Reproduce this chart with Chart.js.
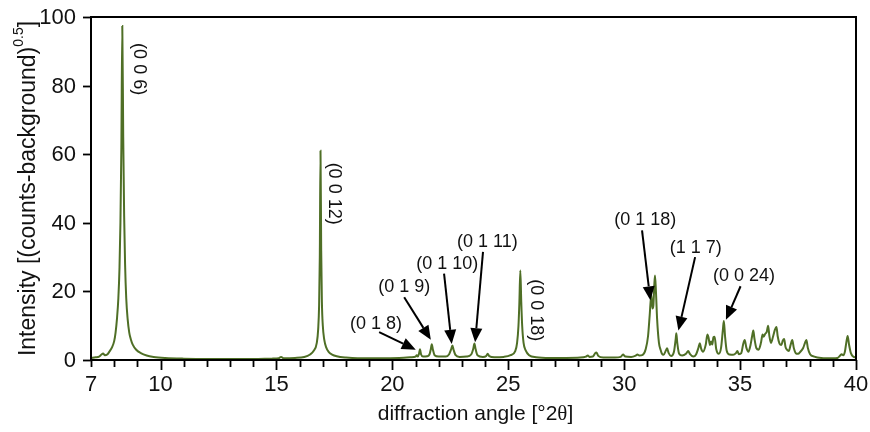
<!DOCTYPE html>
<html>
<head>
<meta charset="utf-8">
<script src="https://cdn.jsdelivr.net/npm/chart.js@4/dist/chart.umd.min.js"></script>
<style>
  html, body { margin: 0; padding: 0; background: #ffffff; }
  #wrap { width: 870px; height: 432px; }
</style>
</head>
<body>
<div id="wrap"><canvas id="xrd" width="870" height="432"></canvas></div>
<script>
// diffraction angle (°2θ) and intensity sqrt(counts - background)
var angle = [
  7.0, 7.2, 7.35, 7.45, 7.52, 7.6, 7.7, 7.8, 7.9, 8.0, 8.06, 8.12, 8.18, 8.23, 8.27, 8.31, 8.35, 8.39, 8.43, 8.47,
  8.52, 8.58, 8.65, 8.72, 8.8, 8.95, 9.15, 9.4, 9.7, 10.2, 11.0, 12.0, 13.0, 14.0, 14.8, 15.1, 15.2, 15.3, 15.8, 16.2,
  16.45, 16.6, 16.74, 16.8, 16.84, 16.87, 16.9, 16.93, 16.96, 17.0, 17.06, 17.15, 17.25, 17.4, 17.6, 18.0, 18.5, 19.5, 20.3,
  20.8, 21.0, 21.05, 21.1, 21.15, 21.19, 21.24, 21.32, 21.5, 21.6, 21.66, 21.7, 21.75, 21.82, 22.0, 22.3, 22.45, 22.54, 22.59, 22.64,
  22.72, 22.9, 23.2, 23.4, 23.49, 23.54, 23.59, 23.67, 23.9, 24.05, 24.11, 24.18, 24.4, 24.8, 25.1, 25.3, 25.38, 25.44, 25.48, 25.52,
  25.56, 25.6, 25.66, 25.75, 25.9, 26.2, 26.8, 27.5, 28.1, 28.35, 28.43, 28.5, 28.65, 28.75, 28.8, 28.88, 29.1, 29.6, 29.85, 29.95,
  30.05, 30.3, 30.5, 30.57, 30.65, 30.8, 30.93, 31.03, 31.1, 31.17, 31.22, 31.26, 31.3, 31.33, 31.37, 31.42, 31.5, 31.57, 31.63, 31.7,
  31.8, 31.85, 31.92, 32.02, 32.15, 32.22, 32.25, 32.29, 32.37, 32.5, 32.68, 32.76, 32.84, 32.98, 33.1, 33.2, 33.26, 33.32, 33.4, 33.52,
  33.59, 33.64, 33.7, 33.75, 33.8, 33.85, 33.9, 33.97, 34.08, 34.18, 34.26, 34.3, 34.35, 34.42, 34.55, 34.7, 34.82, 34.88, 34.95, 35.05,
  35.13, 35.2, 35.27, 35.36, 35.45, 35.52, 35.57, 35.62, 35.7, 35.8, 35.9, 35.97, 36.02, 36.08, 36.15, 36.21, 36.26, 36.33, 36.42, 36.5,
  36.57, 36.62, 36.7, 36.78, 36.84, 36.9, 36.96, 37.02, 37.1, 37.18, 37.25, 37.32, 37.4, 37.5, 37.6, 37.72, 37.8, 37.86, 37.92, 38.02,
  38.2, 38.5, 39.0, 39.2, 39.32, 39.38, 39.45, 39.52, 39.58, 39.64, 39.7, 39.78, 39.88, 40.0
];
var intensity = [
  0.6, 0.8, 1.0, 1.6, 1.9, 1.4, 1.6, 2.5, 3.6, 5.5, 8, 12, 18, 27, 40, 62, 97.4, 65, 42, 28,
  18, 12, 8, 6, 4.5, 3.0, 2.0, 1.3, 0.9, 0.6, 0.4, 0.3, 0.3, 0.3, 0.4, 0.5, 0.9, 0.5, 0.6, 0.9,
  1.6, 2.6, 5, 9, 16, 30, 61, 32, 17, 10, 6, 3.6, 2.4, 1.6, 1.1, 0.7, 0.5, 0.5, 0.6,
  0.8, 1.0, 1.4, 1.0, 1.8, 3.1, 1.6, 1.0, 1.1, 1.6, 3.2, 4.6, 3.0, 1.4, 1.0, 1.0, 1.7, 3.2, 4.2, 3.0,
  1.5, 0.9, 1.0, 1.6, 3.3, 4.8, 3.2, 1.4, 0.9, 1.2, 1.8, 1.1, 0.8, 0.9, 1.4, 2.6, 5, 10, 17, 26.1,
  17, 10, 5, 2.8, 1.4, 0.8, 0.6, 0.6, 0.7, 1.0, 1.3, 0.9, 1.0, 2.0, 2.2, 1.2, 0.7, 0.7, 0.9, 1.6,
  1.0, 0.9, 1.3, 1.6, 1.3, 1.5, 3.2, 7, 13, 19, 15, 16, 22, 24.6, 20, 12, 5, 3.0, 1.8, 1.5,
  2.8, 3.4, 2.0, 1.2, 2.5, 6, 7.8, 5, 1.8, 1.3, 1.9, 2.6, 1.7, 1.0, 1.6, 3.5, 4.9, 3.3, 2.4, 4.5,
  7.4, 6.5, 4.4, 5.4, 4.5, 6.6, 6.8, 3.2, 1.8, 3.6, 9, 11.4, 7, 2.8, 1.6, 1.5, 2.0, 2.6, 1.7, 2.0,
  4.5, 5.8, 3.6, 2.4, 4.4, 7.0, 8.6, 6.2, 3.5, 3.0, 5.0, 7.4, 6.8, 7.6, 8.2, 10.0, 7.2, 5.0, 6.8, 8.8,
  9.6, 7.0, 4.8, 4.4, 5.6, 6.1, 3.8, 3.0, 2.6, 4.4, 5.8, 3.4, 2.0, 1.8, 2.4, 3.5, 5.0, 5.8, 3.6, 1.7,
  1.0, 0.6, 0.5, 0.6, 1.3, 1.7, 1.4, 2.4, 5.0, 7.0, 4.5, 2.0, 1.0, 0.7
];

var xTickLabels = [7, 10, 15, 20, 25, 30, 35, 40];
var yTickLabels = [0, 20, 40, 60, 80, 100];

// reflection labels: rotated ones sit beside their peak, the others point with an arrow
var hklText = ['(0 0 6)', '(0 0 12)', '(0 0 18)', '(0 1 8)', '(0 1 9)', '(0 1 10)', '(0 1 11)', '(0 1 18)', '(1 1 7)', '(0 0 24)'];
var hklAt = [[9.08, 84.8], [17.5, 48.5], [26.18, 14.5], [19.29, 10.6], [20.51, 21.3], [22.37, 28.1], [24.1, 34.4], [30.91, 40.7], [33.09, 32.6], [35.17, 24.5]];
var hklRotated = [true, true, true, false, false, false, false, false, false, false];
var arrowFrom = [null, null, null, [19.43, 8.1], [20.51, 18.3], [22.23, 25.2], [23.91, 31.5], [30.77, 37.8], [33.06, 30.0], [35.02, 21.5]];
var arrowTo = [null, null, null, [21.01, 3.0], [21.66, 5.9], [22.56, 4.7], [23.57, 5.2], [31.13, 17.4], [32.34, 8.6], [34.39, 11.7]];

var FONT = '"Liberation Sans", Arial, sans-serif';

var axesPlugin = {
  id: 'xrdAxes',
  afterDraw: function(chart) {
    var ctx = chart.ctx;
    var a = chart.chartArea;
    var xs = chart.scales.x, ys = chart.scales.y;
    ctx.save();

    // frame
    ctx.strokeStyle = '#000';
    ctx.lineWidth = 2;
    ctx.strokeRect(a.left, a.top, a.right - a.left, a.bottom - a.top);

    // x ticks, one per degree
    ctx.lineWidth = 1.8;
    for (var v = 7; v <= 40; v++) {
      var px = Math.round(xs.getPixelForValue(v)) + 0.5;
      var len = (v % 5 === 0) ? 10 : 7;
      ctx.beginPath();
      ctx.moveTo(px, a.bottom);
      ctx.lineTo(px, a.bottom + len);
      ctx.stroke();
    }
    ctx.fillStyle = '#111';
    ctx.font = '22px ' + FONT;
    ctx.textAlign = 'center';
    ctx.textBaseline = 'middle';
    xTickLabels.forEach(function(v) {
      ctx.fillText(String(v), xs.getPixelForValue(v), a.bottom + 25);
    });

    // y ticks
    ctx.textAlign = 'right';
    yTickLabels.forEach(function(v) {
      var py = Math.round(ys.getPixelForValue(v)) + 0.5;
      ctx.beginPath();
      ctx.moveTo(a.left, py);
      ctx.lineTo(a.left - 8, py);
      ctx.stroke();
      ctx.fillText(String(v), a.left - 15, py);
    });

    // x title, theta in a serif face
    var t1 = 'diffraction angle [°2', t2 = 'θ', t3 = ']';
    ctx.textAlign = 'left';
    ctx.font = '21px ' + FONT;
    var w1 = ctx.measureText(t1).width, w3 = ctx.measureText(t3).width;
    ctx.font = '21px "Liberation Serif", serif';
    var w2 = ctx.measureText(t2).width;
    var x0 = (a.left + a.right) / 2 - (w1 + w2 + w3) / 2 + 2;
    var ty = 414;
    ctx.font = '21px ' + FONT;
    ctx.fillText(t1, x0, ty);
    ctx.font = '21px "Liberation Serif", serif';
    ctx.fillText(t2, x0 + w1, ty);
    ctx.font = '21px ' + FONT;
    ctx.fillText(t3, x0 + w1 + w2, ty);

    // y title with superscript
    ctx.save();
    ctx.translate(27, (a.top + a.bottom) / 2);
    ctx.rotate(-Math.PI / 2);
    var s1 = 'Intensity [(counts-background)', s2 = '0.5', s3 = ']';
    ctx.font = '23px ' + FONT;
    var ws1 = ctx.measureText(s1).width, ws3 = ctx.measureText(s3).width;
    ctx.font = '14px ' + FONT;
    var ws2 = ctx.measureText(s2).width;
    var sx = -(ws1 + ws2 + ws3) / 2;
    ctx.textBaseline = 'alphabetic';
    ctx.font = '23px ' + FONT;
    ctx.fillText(s1, sx, 8);
    ctx.font = '14px ' + FONT;
    ctx.fillText(s2, sx + ws1, -4);
    ctx.font = '23px ' + FONT;
    ctx.fillText(s3, sx + ws1 + ws2, 8);
    ctx.restore();

    // reflection labels and arrows
    ctx.font = '18px ' + FONT;
    ctx.textAlign = 'center';
    ctx.textBaseline = 'middle';
    ctx.fillStyle = '#111';
    hklText.forEach(function(txt, i) {
      var lx = xs.getPixelForValue(hklAt[i][0]), ly = ys.getPixelForValue(hklAt[i][1]);
      if (hklRotated[i]) {
        ctx.save();
        ctx.translate(lx, ly);
        ctx.rotate(Math.PI / 2);
        ctx.fillText(txt, 0, 0);
        ctx.restore();
      } else {
        ctx.fillText(txt, lx, ly);
      }
      if (arrowFrom[i]) {
        var fx = xs.getPixelForValue(arrowFrom[i][0]), fy = ys.getPixelForValue(arrowFrom[i][1]);
        var tx = xs.getPixelForValue(arrowTo[i][0]), tyy = ys.getPixelForValue(arrowTo[i][1]);
        var ang = Math.atan2(tyy - fy, tx - fx);
        var head = 14, half = 6;
        var bx = tx - head * Math.cos(ang), by = tyy - head * Math.sin(ang);
        ctx.strokeStyle = '#000';
        ctx.lineWidth = 2;
        ctx.beginPath();
        ctx.moveTo(fx, fy);
        ctx.lineTo(bx, by);
        ctx.stroke();
        ctx.fillStyle = '#000';
        ctx.beginPath();
        ctx.moveTo(tx, tyy);
        ctx.lineTo(bx + half * Math.sin(ang), by - half * Math.cos(ang));
        ctx.lineTo(bx - half * Math.sin(ang), by + half * Math.cos(ang));
        ctx.closePath();
        ctx.fill();
        ctx.fillStyle = '#111';
      }
    });

    ctx.restore();
  }
};

new Chart(document.getElementById('xrd'), {
  type: 'line',
  data: {
    datasets: [{
      data: angle.map(function(a, i) { return {x: a, y: intensity[i]}; }),
      borderColor: '#4f6f26',
      borderWidth: 2,
      pointRadius: 0,
      fill: false,
      cubicInterpolationMode: 'monotone'
    }]
  },
  options: {
    responsive: false,
    animation: false,
    devicePixelRatio: 1,
    layout: { padding: { left: 91, right: 14, top: 17, bottom: 72 } },
    plugins: { legend: { display: false }, tooltip: { enabled: false } },
    scales: {
      x: { type: 'linear', min: 7, max: 40, display: false },
      y: { min: 0, max: 100, display: false }
    }
  },
  plugins: [axesPlugin]
});
</script>
</body>
</html>
